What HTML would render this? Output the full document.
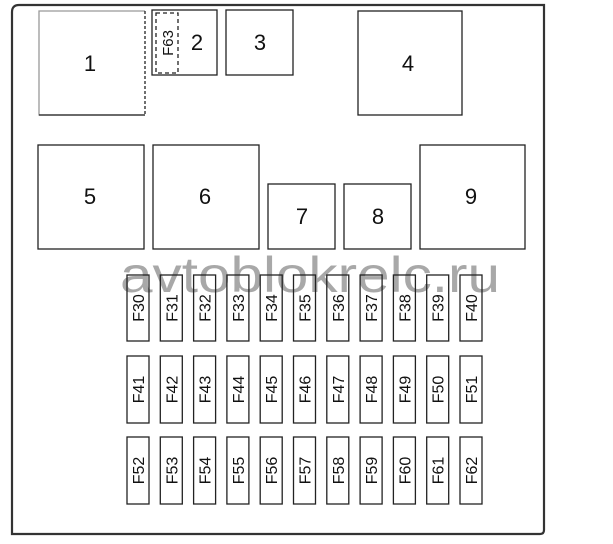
<!DOCTYPE html>
<html><head><style>body{margin:0;background:#fff}svg{display:block}</style></head><body>
<svg width="613" height="544" xmlns="http://www.w3.org/2000/svg" font-family="Liberation Sans, sans-serif">
<rect width="613" height="544" fill="#fff"/>
<path d="M12,534 L12,12 Q12,5 19,5 L544,5 L544,530 Q544,534 540,534 Z" fill="none" stroke="#333" stroke-width="2.2"/>
<g fill="none" stroke="#222" stroke-width="1.3">
<path d="M145,11 L39,11 L39,115 L145,115" stroke="#999"/>
<line x1="39" y1="115" x2="145" y2="115"/>
<line x1="145" y1="11" x2="145" y2="115" stroke-dasharray="3,2"/>
<rect x="152" y="10" width="65" height="65"/>
<rect x="156" y="13" width="22" height="60" stroke-dasharray="4,3"/>
<rect x="226" y="10" width="67" height="65"/>
<rect x="358" y="11" width="104" height="104"/>
<rect x="38" y="145" width="106" height="104"/>
<rect x="153" y="145" width="106" height="104"/>
<rect x="268" y="184" width="67" height="65"/>
<rect x="344" y="184" width="67" height="65"/>
<rect x="420" y="145" width="105" height="104"/>
</g>
<g font-size="22" text-anchor="middle" fill="#111">
<text x="90" y="71">1</text><text x="197" y="50">2</text><text x="260" y="50">3</text><text x="408" y="71">4</text>
<text x="90" y="204">5</text><text x="205" y="204">6</text><text x="302" y="224">7</text><text x="378" y="224">8</text><text x="471" y="204">9</text>
</g>
<text transform="translate(173,43) rotate(-90)" font-size="15" text-anchor="middle" fill="#111">F63</text>
<text x="120" y="292" font-size="50" fill="#999" textLength="380" lengthAdjust="spacingAndGlyphs" opacity="0.85">avtoblokrelc.ru</text>
<g id="fuses" fill="none" stroke="#222" stroke-width="1.3"></g>
<g font-size="16" text-anchor="middle" fill="#111">
<script>
</script>
</g>
<g fill="none" stroke="#222" stroke-width="1.3">
<rect x="127" y="275" width="22" height="66"/><rect x="160.3" y="275" width="22" height="66"/><rect x="193.6" y="275" width="22" height="66"/><rect x="226.9" y="275" width="22" height="66"/><rect x="260.2" y="275" width="22" height="66"/><rect x="293.5" y="275" width="22" height="66"/><rect x="326.8" y="275" width="22" height="66"/><rect x="360.1" y="275" width="22" height="66"/><rect x="393.4" y="275" width="22" height="66"/><rect x="426.7" y="275" width="22" height="66"/><rect x="460" y="275" width="22" height="66"/>
<rect x="127" y="356" width="22" height="67"/><rect x="160.3" y="356" width="22" height="67"/><rect x="193.6" y="356" width="22" height="67"/><rect x="226.9" y="356" width="22" height="67"/><rect x="260.2" y="356" width="22" height="67"/><rect x="293.5" y="356" width="22" height="67"/><rect x="326.8" y="356" width="22" height="67"/><rect x="360.1" y="356" width="22" height="67"/><rect x="393.4" y="356" width="22" height="67"/><rect x="426.7" y="356" width="22" height="67"/><rect x="460" y="356" width="22" height="67"/>
<rect x="127" y="437" width="22" height="67"/><rect x="160.3" y="437" width="22" height="67"/><rect x="193.6" y="437" width="22" height="67"/><rect x="226.9" y="437" width="22" height="67"/><rect x="260.2" y="437" width="22" height="67"/><rect x="293.5" y="437" width="22" height="67"/><rect x="326.8" y="437" width="22" height="67"/><rect x="360.1" y="437" width="22" height="67"/><rect x="393.4" y="437" width="22" height="67"/><rect x="426.7" y="437" width="22" height="67"/><rect x="460" y="437" width="22" height="67"/>
</g>
<g font-size="16" text-anchor="middle" fill="#111">
<text transform="translate(144,308) rotate(-90)">F30</text><text transform="translate(177.3,308) rotate(-90)">F31</text><text transform="translate(210.6,308) rotate(-90)">F32</text><text transform="translate(243.9,308) rotate(-90)">F33</text><text transform="translate(277.2,308) rotate(-90)">F34</text><text transform="translate(310.5,308) rotate(-90)">F35</text><text transform="translate(343.8,308) rotate(-90)">F36</text><text transform="translate(377.1,308) rotate(-90)">F37</text><text transform="translate(410.4,308) rotate(-90)">F38</text><text transform="translate(443.7,308) rotate(-90)">F39</text><text transform="translate(477,308) rotate(-90)">F40</text>
<text transform="translate(144,389.5) rotate(-90)">F41</text><text transform="translate(177.3,389.5) rotate(-90)">F42</text><text transform="translate(210.6,389.5) rotate(-90)">F43</text><text transform="translate(243.9,389.5) rotate(-90)">F44</text><text transform="translate(277.2,389.5) rotate(-90)">F45</text><text transform="translate(310.5,389.5) rotate(-90)">F46</text><text transform="translate(343.8,389.5) rotate(-90)">F47</text><text transform="translate(377.1,389.5) rotate(-90)">F48</text><text transform="translate(410.4,389.5) rotate(-90)">F49</text><text transform="translate(443.7,389.5) rotate(-90)">F50</text><text transform="translate(477,389.5) rotate(-90)">F51</text>
<text transform="translate(144,470.5) rotate(-90)">F52</text><text transform="translate(177.3,470.5) rotate(-90)">F53</text><text transform="translate(210.6,470.5) rotate(-90)">F54</text><text transform="translate(243.9,470.5) rotate(-90)">F55</text><text transform="translate(277.2,470.5) rotate(-90)">F56</text><text transform="translate(310.5,470.5) rotate(-90)">F57</text><text transform="translate(343.8,470.5) rotate(-90)">F58</text><text transform="translate(377.1,470.5) rotate(-90)">F59</text><text transform="translate(410.4,470.5) rotate(-90)">F60</text><text transform="translate(443.7,470.5) rotate(-90)">F61</text><text transform="translate(477,470.5) rotate(-90)">F62</text>
</g>
</svg>
</body></html>
